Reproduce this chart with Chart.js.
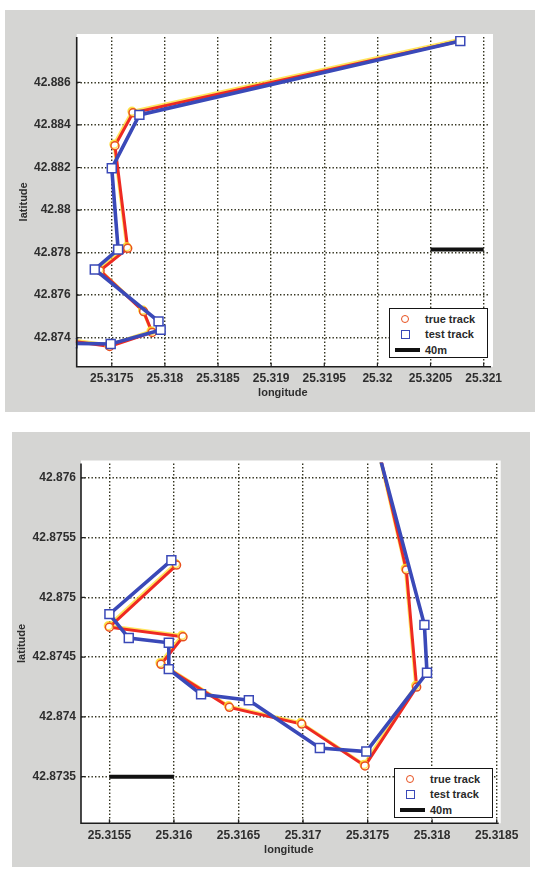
<!DOCTYPE html>
<html><head><meta charset="utf-8">
<script src="https://cdn.jsdelivr.net/npm/chart.js@4.4.1/dist/chart.umd.min.js"></script>
<style>
html,body{margin:0;padding:0;background:#fff;width:542px;height:869px;overflow:hidden;position:relative;font-family:"Liberation Sans",Arial,sans-serif;}
.panel{position:absolute;background:#d5d5d3;}
#p1{left:5px;top:10px;width:530px;height:402px;}
#p2{left:12px;top:432px;width:518px;height:435px;}
canvas{display:block;}
.legend{position:absolute;width:99px;height:50px;background:#fff;border:1.5px solid #151515;box-sizing:border-box;font:bold 11px "Liberation Sans",Arial,sans-serif;color:#2a2a2a;}
.legend .row{position:absolute;left:0;width:100%;height:14px;}
.legend .txt{position:absolute;left:35px;top:0;line-height:14px;white-space:nowrap;}
.legend .circ{position:absolute;left:11px;top:3px;width:8px;height:8px;border:1.6px solid #e8501e;border-radius:50%;box-sizing:border-box;}
.legend .sq{position:absolute;left:10.5px;top:2.5px;width:9px;height:9px;border:1.5px solid #3a49b8;box-sizing:border-box;}
.legend .bar{position:absolute;left:5px;top:5px;width:25px;height:4px;background:#111;}
</style>
</head><body>
<div class="panel" id="p1"><canvas id="c1" width="530" height="402"></canvas></div>
<div class="panel" id="p2"><canvas id="c2" width="518" height="435"></canvas></div>
<div class="legend" id="lg1" style="left:389px;top:308px;"></div>
<div class="legend" id="lg2" style="left:394px;top:768px;"></div>
<script>
// ---- data (longitude / latitude of the tracks) ----
const trueLon = [25.31602, 25.31550, 25.31607, 25.31590, 25.31643, 25.31699, 25.31748, 25.31788, 25.31780, 25.31739, 25.31765, 25.31753, 25.31770, 25.32078];
const trueLat = [42.87527, 42.87475, 42.87467, 42.87444, 42.87408, 42.87394, 42.87359, 42.87425, 42.87523, 42.87715, 42.87820, 42.88302, 42.88457, 42.88794];
const testLon = [25.31598, 25.31550, 25.31565, 25.31596, 25.31596, 25.31621, 25.31658, 25.31713, 25.31749, 25.31796, 25.31794, 25.31734, 25.31756, 25.31750, 25.31776, 25.32078];
const testLat = [42.87531, 42.87486, 42.87466, 42.87462, 42.87440, 42.87419, 42.87414, 42.87374, 42.87371, 42.87437, 42.87477, 42.87721, 42.87815, 42.88196, 42.88447, 42.88794];
// 40 m scale bars
const scaleTopLon = [25.3205, 25.3210];
const scaleTopLat = [42.87815, 42.87815];
const scaleBotLon = [25.3155, 25.3160];
const scaleBotLat = [42.8735, 42.8735];
// tick values
const topXTicks = [25.3175, 25.318, 25.3185, 25.319, 25.3195, 25.32, 25.3205, 25.321];
const topYTicks = [42.874, 42.876, 42.878, 42.88, 42.882, 42.884, 42.886];
const botXTicks = [25.3155, 25.316, 25.3165, 25.317, 25.3175, 25.318, 25.3185];
const botYTicks = [42.8735, 42.874, 42.8745, 42.875, 42.8755, 42.876];
const seriesLabels = ['true track', 'test track', '40m'];
const axisTitles = ['longitude', 'latitude'];

const pts = (xs, ys) => xs.map((x, i) => ({x: x, y: ys[i]}));

const bgPlugin = {
  id: 'bg',
  beforeDraw(chart) {
    const a = chart.chartArea, ctx = chart.ctx;
    ctx.save(); ctx.fillStyle = '#ffffff';
    ctx.fillRect(a.left, a.top - 3, a.right - a.left + 4, a.bottom - a.top + 3);
    ctx.restore();
  },
  afterDraw(chart) {
    const ctx = chart.ctx, a = chart.chartArea;
    ctx.save(); ctx.strokeStyle = '#222'; ctx.lineWidth = 1.2; ctx.setLineDash([]);
    ctx.beginPath();
    chart.scales.x.ticks.forEach(t => { const px = chart.scales.x.getPixelForValue(t.value); ctx.moveTo(px, a.bottom); ctx.lineTo(px, a.bottom - 4); });
    chart.scales.y.ticks.forEach(t => { const py = chart.scales.y.getPixelForValue(t.value); ctx.moveTo(a.left, py); ctx.lineTo(a.left + 4, py); });
    ctx.stroke();
    // axis lines (solid)
    ctx.strokeStyle = '#1e1e1e'; ctx.lineWidth = 1.6;
    ctx.beginPath(); ctx.moveTo(a.left, a.top); ctx.lineTo(a.left, a.bottom); ctx.lineTo(a.right + 2, a.bottom); ctx.stroke();
    ctx.restore();
  },
  beforeDatasetDraw(chart, args) {
    const ds = chart.data.datasets[args.index];
    if (ds.fringe) {
      const ctx = chart.ctx;
      ctx.shadowColor = ds.fringe.color; ctx.shadowOffsetX = ds.fringe.dx; ctx.shadowOffsetY = ds.fringe.dy; ctx.shadowBlur = 0.6;
    }
  },
  afterDatasetDraw(chart) {
    const ctx = chart.ctx;
    ctx.shadowColor = 'rgba(0,0,0,0)'; ctx.shadowOffsetX = 0; ctx.shadowOffsetY = 0; ctx.shadowBlur = 0;
  }
};

function makeChart(id, cfg) {
  const tickFont = {family: '"Liberation Sans", Arial, sans-serif', size: 12, weight: 'bold'};
  const titleFont = {family: '"Liberation Sans", Arial, sans-serif', size: 11, weight: 'bold'};
  const gridOpt = {color: 'rgba(40,40,20,0.95)', lineWidth: 1.4, drawTicks: false};
  const borderOpt = {display: false, dash: [1.4, 2.1]};
  return new Chart(document.getElementById(id), {
    type: 'scatter',
    data: {
      datasets: [
        {label: seriesLabels[0], data: pts(trueLon, trueLat), showLine: true, order: 2,
         borderColor: '#ee2a22', borderWidth: 3, pointStyle: 'circle', pointRadius: 4,
         pointBorderColor: '#e8501e', pointBackgroundColor: '#ffffff', pointBorderWidth: 1.5,
         fringe: {color: 'rgba(255,220,40,0.75)', dx: -1, dy: -1.5}, clip: 1},
        {label: seriesLabels[1], data: pts(testLon, testLat), showLine: true, order: 1,
         borderColor: '#3a49b8', borderWidth: 3.6, pointStyle: 'rect', pointRadius: 6.3,
         pointBorderColor: '#3a49b8', pointBackgroundColor: '#ffffff', pointBorderWidth: 1.5, clip: 1},
        {label: seriesLabels[2], data: pts(cfg.barLon, cfg.barLat), showLine: true, order: 0,
         borderColor: '#111111', borderWidth: 4, pointRadius: 0, clip: 1}
      ]
    },
    options: {
      responsive: false, animation: false, events: [],
      layout: {padding: cfg.pad},
      plugins: {legend: {display: false}, tooltip: {enabled: false}},
      scales: {
        x: {type: 'linear', min: cfg.xr[0], max: cfg.xr[1],
            afterBuildTicks: s => { s.ticks = cfg.xt.map(v => ({value: v})); },
            afterFit: s => { s.height = cfg.xh; },
            ticks: {callback: v => String(v), font: tickFont, color: '#2e2e2e', padding: cfg.xpad, maxRotation: 0, autoSkip: false},
            grid: gridOpt, border: borderOpt,
            title: {display: true, text: axisTitles[0], font: titleFont, color: '#2e2e2e', padding: {top: 0, bottom: cfg.xtp}}},
        y: {type: 'linear', min: cfg.yr[0], max: cfg.yr[1],
            afterBuildTicks: s => { s.ticks = cfg.yt.map(v => ({value: v})); },
            afterFit: s => { s.width = cfg.yw; },
            ticks: {callback: v => String(v), font: tickFont, color: '#2e2e2e', padding: cfg.ypad, autoSkip: false},
            grid: gridOpt, border: borderOpt,
            title: {display: true, text: axisTitles[1], font: titleFont, color: '#2e2e2e', padding: {top: cfg.ytp, bottom: 0}}}
      }
    },
    plugins: [bgPlugin]
  });
}

makeChart('c1', {xr: [25.31717, 25.32105], yr: [42.87264, 42.88813], xt: topXTicks, yt: topYTicks,
  barLon: scaleTopLon, barLat: scaleTopLat, pad: {top: 27, right: 46, left: 0, bottom: 0},
  xh: 45.3, yw: 71.7, xpad: 5, ypad: 6, xtp: 12, ytp: 12});
makeChart('c2', {xr: [25.31528, 25.3185], yr: [42.87311, 42.87612], xt: botXTicks, yt: botYTicks,
  barLon: scaleBotLon, barLat: scaleBotLat, pad: {top: 31.5, right: 33.3, left: 0, bottom: 0},
  xh: 43.7, yw: 69, xpad: 5, ypad: 5, xtp: 10, ytp: 3});

function buildLegend(id) {
  const el = document.getElementById(id);
  const kinds = ['circ', 'sq', 'bar'];
  const tops = [2.5, 18, 34];
  seriesLabels.forEach((lab, i) => {
    const row = document.createElement('div'); row.className = 'row'; row.style.top = tops[i] + 'px';
    const m = document.createElement('div'); m.className = kinds[i]; row.appendChild(m);
    const t = document.createElement('div'); t.className = 'txt'; t.textContent = lab; row.appendChild(t);
    el.appendChild(row);
  });
}
buildLegend('lg1'); buildLegend('lg2');
</script>
</body></html>
